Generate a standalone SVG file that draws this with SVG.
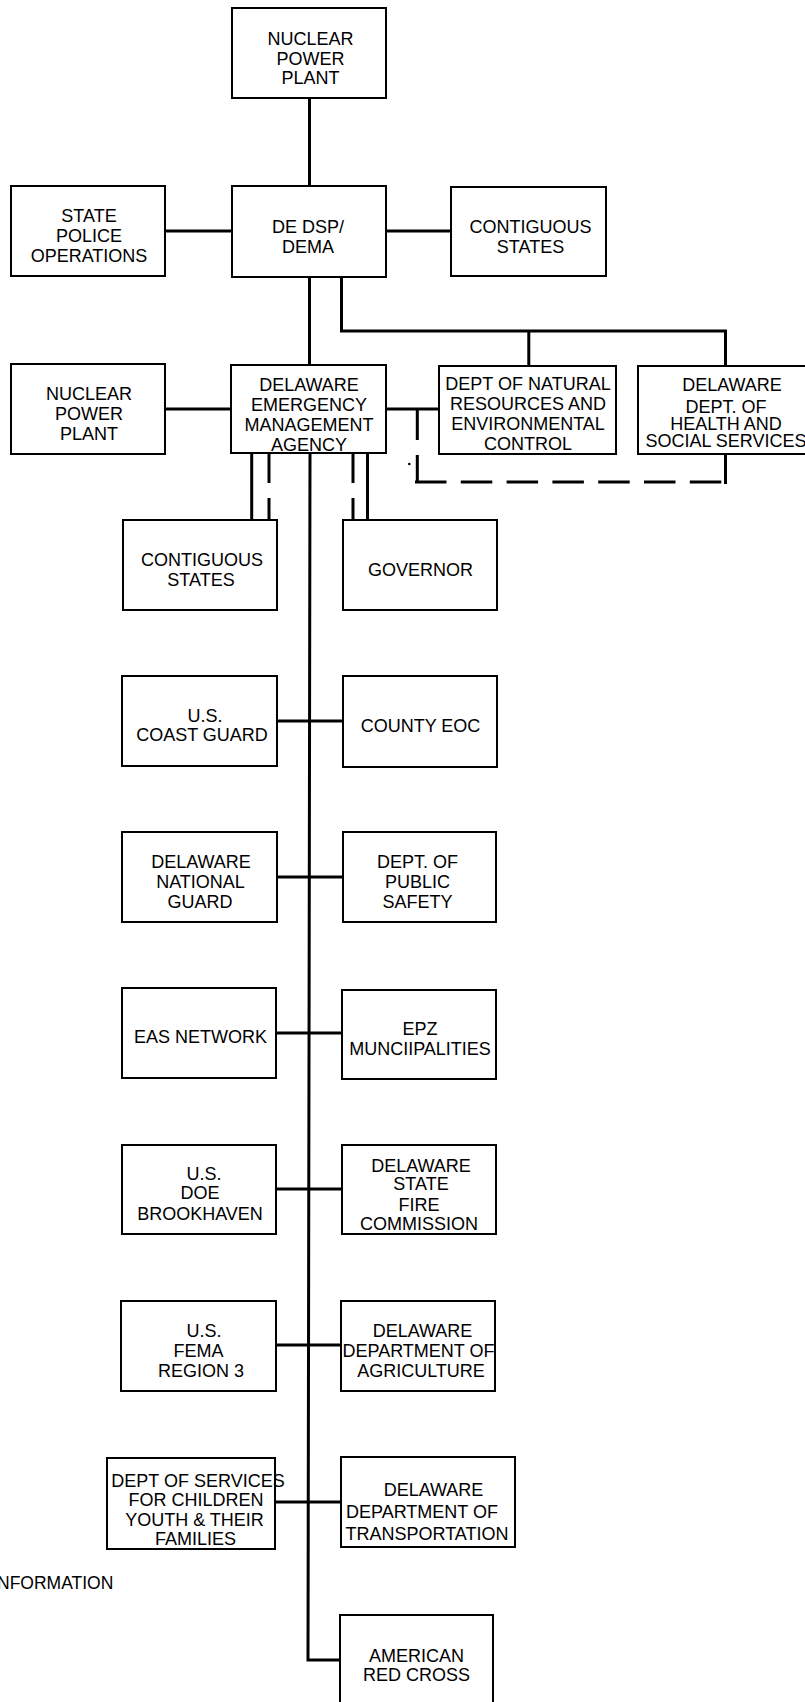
<svg xmlns="http://www.w3.org/2000/svg" width="805" height="1702" viewBox="0 0 805 1702">
<style>
.box{fill:#fff;stroke:#000;stroke-width:2}
.t{font-family:"Liberation Sans",Arial,sans-serif;font-size:18px;fill:#000;text-anchor:middle}
.c{fill:none;stroke:#000;stroke-width:3}
.d{fill:none;stroke:#000;stroke-width:3;stroke-dasharray:31.5 14.3}
</style>
<rect width="805" height="1702" fill="#fff"/>
<g id="connectors">
<path class="c" d="M309.5 98V186"/>
<path class="c" d="M165 231H232M386 231H451"/>
<path class="c" d="M309.5 277V365"/>
<path class="c" d="M341.5 277V331H725.5V366M528.8 331V366"/>
<path class="c" d="M165 409H231M386 409H439"/>
<path class="c" d="M417.3 409V440M417.3 455V482"/>
<path class="d" d="M415 482H722"/>
<path class="c" d="M725.5 454V484"/>
<circle cx="409.3" cy="464" r="1.3" fill="#000"/>
<path class="c" d="M251.7 453V520M269 453V483M269 498V520"/>
<path class="c" d="M353 453V483M353 498V520M367.5 453V520"/>
<path class="c" d="M310 453L308 1660H340"/>
<path class="c" d="M277 721H343M277 877H343M276 1033H342M276 1189H342M276 1345H341M275 1502H341"/>
</g>
<g id="npp1"><rect class="box" x="232" y="8" width="154" height="90"/><text class="t"><tspan x="310.5" y="45">NUCLEAR</tspan><tspan x="310.5" y="65">POWER</tspan><tspan x="310.5" y="84.3">PLANT</tspan></text></g>
<g id="statepolice"><rect class="box" x="11" y="186" width="154" height="90"/><text class="t"><tspan x="89" y="221.7">STATE</tspan><tspan x="89" y="241.7">POLICE</tspan><tspan x="89" y="261.7">OPERATIONS</tspan></text></g>
<g id="dsp"><rect class="box" x="232" y="186" width="154" height="91"/><text class="t"><tspan x="308" y="233.3">DE DSP/</tspan><tspan x="308" y="252.7">DEMA</tspan></text></g>
<g id="contig1"><rect class="box" x="451" y="187" width="155" height="89"/><text class="t"><tspan x="530.5" y="233.3">CONTIGUOUS</tspan><tspan x="530.5" y="252.7">STATES</tspan></text></g>
<g id="npp2"><rect class="box" x="11" y="364" width="154" height="90"/><text class="t"><tspan x="89" y="400">NUCLEAR</tspan><tspan x="89" y="420">POWER</tspan><tspan x="89" y="440">PLANT</tspan></text></g>
<g id="dema"><rect class="box" x="231" y="365" width="155" height="88"/><text class="t"><tspan x="309" y="391">DELAWARE</tspan><tspan x="309" y="411">EMERGENCY</tspan><tspan x="309" y="431">MANAGEMENT</tspan><tspan x="309" y="450.5">AGENCY</tspan></text></g>
<g id="dnrec"><rect class="box" x="439" y="366" width="177" height="88"/><text class="t"><tspan x="528" y="390">DEPT OF NATURAL</tspan><tspan x="528" y="410">RESOURCES AND</tspan><tspan x="528" y="430">ENVIRONMENTAL</tspan><tspan x="528" y="450">CONTROL</tspan></text></g>
<g id="health"><rect class="box" x="638" y="366" width="176" height="88"/><text class="t"><tspan x="732" y="391">DELAWARE</tspan><tspan x="726" y="413">DEPT. OF</tspan><tspan x="726" y="430">HEALTH AND</tspan><tspan x="726" y="446.7">SOCIAL SERVICES</tspan></text></g>
<g id="contig2"><rect class="box" x="123" y="520" width="154" height="90"/><text class="t"><tspan x="202" y="566">CONTIGUOUS</tspan><tspan x="201" y="586">STATES</tspan></text></g>
<g id="governor"><rect class="box" x="343" y="520" width="154" height="90"/><text class="t"><tspan x="420.5" y="576">GOVERNOR</tspan></text></g>
<g id="coastguard"><rect class="box" x="122" y="676" width="155" height="90"/><text class="t"><tspan x="205" y="721.7">U.S.</tspan><tspan x="202" y="741">COAST GUARD</tspan></text></g>
<g id="countyeoc"><rect class="box" x="343" y="676" width="154" height="91"/><text class="t"><tspan x="420.5" y="731.7">COUNTY EOC</tspan></text></g>
<g id="nationalguard"><rect class="box" x="122" y="832" width="155" height="90"/><text class="t"><tspan x="201" y="868.3">DELAWARE</tspan><tspan x="200.5" y="888.3">NATIONAL</tspan><tspan x="200" y="908.3">GUARD</tspan></text></g>
<g id="publicsafety"><rect class="box" x="343" y="832" width="153" height="90"/><text class="t"><tspan x="417.5" y="868.3">DEPT. OF</tspan><tspan x="417.5" y="888.3">PUBLIC</tspan><tspan x="417.5" y="908.3">SAFETY</tspan></text></g>
<g id="eas"><rect class="box" x="122" y="988" width="154" height="90"/><text class="t"><tspan x="200.5" y="1043.3">EAS NETWORK</tspan></text></g>
<g id="epz"><rect class="box" x="342" y="990" width="154" height="89"/><text class="t"><tspan x="420" y="1035">EPZ</tspan><tspan x="420" y="1055">MUNCIIPALITIES</tspan></text></g>
<g id="doe"><rect class="box" x="122" y="1145" width="154" height="89"/><text class="t"><tspan x="204" y="1180">U.S.</tspan><tspan x="200" y="1199">DOE</tspan><tspan x="200" y="1220">BROOKHAVEN</tspan></text></g>
<g id="fire"><rect class="box" x="342" y="1145" width="154" height="89"/><text class="t"><tspan x="421" y="1171.7">DELAWARE</tspan><tspan x="421" y="1190">STATE</tspan><tspan x="419" y="1210.7">FIRE</tspan><tspan x="419" y="1230">COMMISSION</tspan></text></g>
<g id="fema"><rect class="box" x="121" y="1301" width="155" height="90"/><text class="t"><tspan x="204" y="1336.7">U.S.</tspan><tspan x="198.5" y="1356.7">FEMA</tspan><tspan x="201" y="1376.7">REGION 3</tspan></text></g>
<g id="agriculture"><rect class="box" x="341" y="1301" width="154" height="90"/><text class="t"><tspan x="422.5" y="1336.7">DELAWARE</tspan><tspan x="418.5" y="1356.7">DEPARTMENT OF</tspan><tspan x="421" y="1376.7">AGRICULTURE</tspan></text></g>
<g id="dscyf"><rect class="box" x="107" y="1458" width="168" height="91"/><text class="t"><tspan x="198" y="1486.7">DEPT OF SERVICES</tspan><tspan x="196" y="1506">FOR CHILDREN</tspan><tspan x="194.5" y="1526">YOUTH &amp; THEIR</tspan><tspan x="195.5" y="1545">FAMILIES</tspan></text></g>
<g id="transportation"><rect class="box" x="341" y="1457" width="174" height="90"/><text class="t"><tspan x="433.5" y="1496">DELAWARE</tspan><tspan x="422" y="1518.3">DEPARTMENT OF</tspan><tspan x="427" y="1540">TRANSPORTATION</tspan></text></g>
<g id="redcross"><rect class="box" x="340" y="1615" width="153" height="110"/><text class="t"><tspan x="416.5" y="1661.7">AMERICAN</tspan><tspan x="416.5" y="1680.7">RED CROSS</tspan></text></g>
<text class="t" style="text-anchor:start;font-size:17.5px" x="-3" y="1589.3">NFORMATION</text>
</svg>
